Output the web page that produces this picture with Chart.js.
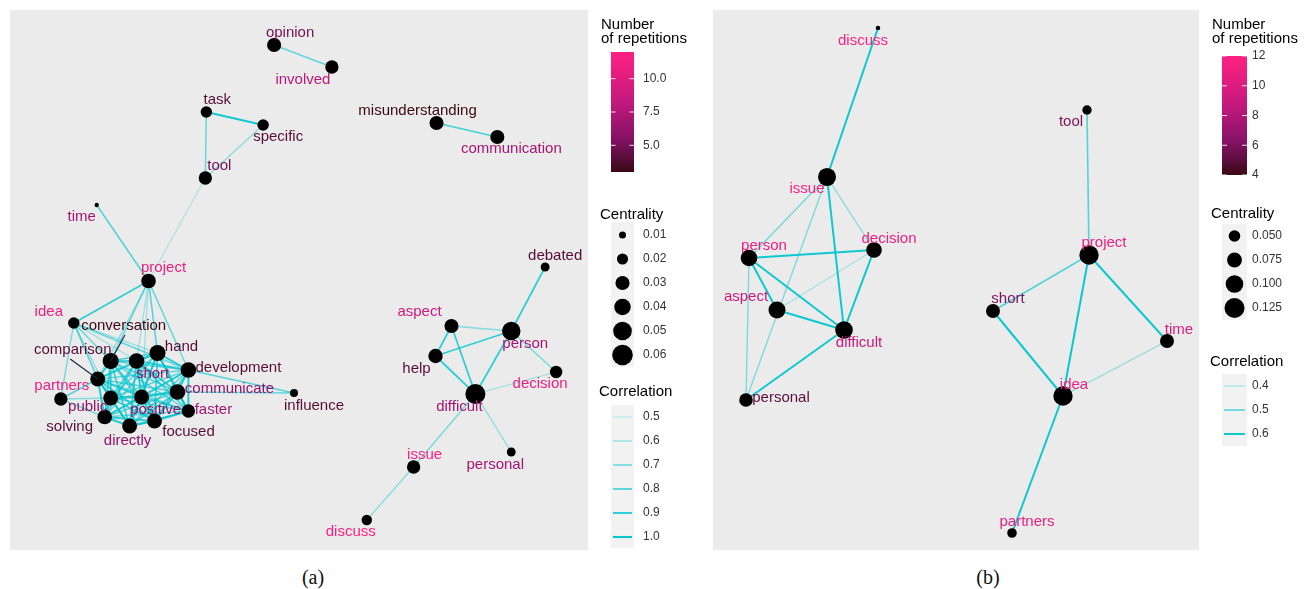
<!DOCTYPE html>
<html>
<head>
<meta charset="utf-8">
<script src="https://cdn.jsdelivr.net/npm/chart.js@4/dist/chart.umd.min.js"></script>
<style>
  html, body { margin: 0; padding: 0; background: #fff; }
  body { width: 1306px; height: 589px; position: relative; overflow: hidden; }
  canvas { position: absolute; top: 0; }
  #netA { left: 0; }
  #netB { left: 700px; }
  .cap { position: absolute; top: 566px; line-height: 22px; font-family: "Liberation Serif", "Times New Roman", serif;
         font-size: 20px; color: #111; transform: translateX(-50%); }
</style>
</head>
<body>
<canvas id="netA" width="700" height="560"></canvas>
<canvas id="netB" width="606" height="560"></canvas>
<div class="cap" style="left:313px">(a)</div>
<div class="cap" style="left:988px">(b)</div>
<script>
// ---------- Network (a) ----------
const wordsA = ["opinion","involved","task","specific","tool","time","project","misunderstanding","communication","debated",
  "idea","conversation","comparison","short","hand","development","partners","public","positive","communicate","faster",
  "solving","directly","focused","influence","aspect","person","help","decision","difficult","personal","issue","discuss"];
const layoutXA = [26.5,32.3,19.7,25.4,19.6,8.7,13.9,42.8,48.9,53.7,6.4,10.1,8.8,12.7,14.8,17.9,5.1,10.1,13.2,16.8,17.9,
  9.5,12.0,14.5,28.5,44.3,50.3,42.7,54.8,46.7,50.3,40.5,35.8];
const layoutYA = [50.5,48.3,43.8,42.5,37.2,34.5,26.9,42.7,41.3,28.3,22.7,18.9,17.1,18.9,19.7,18.0,15.1,15.2,15.3,15.8,13.9,
  13.3,12.4,12.9,15.7,22.4,21.9,19.4,17.8,15.6,9.8,8.3,3.0];
const centralityA = [0.030,0.027,0.021,0.021,0.027,0.006,0.032,0.030,0.030,0.014,0.021,0.038,0.033,0.036,0.038,0.036,0.027,
  0.033,0.033,0.036,0.027,0.032,0.033,0.033,0.012,0.030,0.049,0.031,0.024,0.057,0.014,0.027,0.018];
const repetitionsA = [5,8,4,4,5,7,11,3,7,4,11,3,4,6,4,4,11,6,6,6,7,4,6,4,4,9,7,4,11,7,7,12,12];
const edgesA = [
  ["opinion","involved",0.70],["task","specific",0.95],["task","tool",0.70],["specific","tool",0.60],["tool","project",0.50],
  ["time","project",0.75],["misunderstanding","communication",0.80],
  ["project","idea",0.85],["project","conversation",0.70],["project","comparison",0.60],["project","short",0.55],
  ["project","hand",0.75],["project","development",0.70],["project","positive",0.55],
  ["idea","comparison",0.75],["idea","conversation",0.70],["idea","partners",0.65],["idea","hand",0.60],
  ["idea","development",0.70],["idea","public",0.60],["idea","short",0.55],
  ["partners","comparison",0.75],["partners","public",0.60],["partners","solving",0.65],
  ["development","influence",0.75],["communicate","influence",0.70],
  ["conversation","comparison",0.90],["conversation","short",0.85],["conversation","hand",0.80],["conversation","development",0.75],
  ["conversation","public",0.85],["conversation","positive",0.80],["conversation","communicate",0.75],["conversation","faster",0.70],
  ["conversation","solving",0.80],["conversation","directly",0.80],["conversation","focused",0.75],
  ["comparison","short",0.80],["comparison","hand",0.75],["comparison","development",0.70],["comparison","public",0.90],
  ["comparison","positive",0.85],["comparison","communicate",0.75],["comparison","faster",0.70],["comparison","solving",0.90],
  ["comparison","directly",0.85],["comparison","focused",0.80],
  ["short","hand",0.90],["short","development",0.85],["short","public",0.80],["short","positive",0.90],["short","communicate",0.85],
  ["short","faster",0.80],["short","solving",0.75],["short","directly",0.85],["short","focused",0.85],
  ["hand","development",0.90],["hand","public",0.75],["hand","positive",0.85],["hand","communicate",0.85],["hand","faster",0.80],
  ["hand","solving",0.70],["hand","directly",0.80],["hand","focused",0.80],
  ["development","public",0.70],["development","positive",0.80],["development","communicate",0.90],["development","faster",0.90],
  ["development","solving",0.70],["development","directly",0.75],["development","focused",0.80],
  ["public","positive",0.90],["public","communicate",0.80],["public","faster",0.75],["public","solving",0.95],
  ["public","directly",0.90],["public","focused",0.85],
  ["positive","communicate",0.90],["positive","faster",0.85],["positive","solving",0.85],["positive","directly",0.90],["positive","focused",0.90],
  ["communicate","faster",0.95],["communicate","solving",0.75],["communicate","directly",0.80],["communicate","focused",0.90],
  ["faster","solving",0.70],["faster","directly",0.80],["faster","focused",0.90],
  ["solving","directly",0.90],["solving","focused",0.85],["directly","focused",0.95],
  ["debated","person",0.85],["aspect","person",0.60],["aspect","help",0.85],["aspect","difficult",0.85],["help","person",0.85],
  ["help","difficult",0.85],["person","difficult",0.85],["person","decision",0.65],["decision","difficult",0.55],
  ["difficult","personal",0.60],["difficult","issue",0.65],["issue","discuss",0.60]
];
const repLimitsA = [3, 12];
const repTicksA = [5, 7.5, 10];
const centralityTicksA = [0.01, 0.02, 0.03, 0.04, 0.05, 0.06];
const correlationTicksA = [0.5, 0.6, 0.7, 0.8, 0.9, 1.0];

// ---------- Network (b) ----------
const wordsB = ["discuss","issue","person","decision","aspect","difficult","personal","tool","project","short","time","idea","partners"];
const layoutXB = [16.5,11.4,3.6,16.1,6.4,13.1,3.3,37.4,37.6,28.0,45.4,35.0,29.9];
const layoutYB = [52.2,37.3,29.2,30.0,24.0,22.0,15.0,44.0,29.5,23.9,20.9,15.4,1.7];
const centralityB = [0.018,0.104,0.090,0.081,0.094,0.100,0.064,0.037,0.118,0.067,0.067,0.118,0.038];
const repetitionsB = [12,12,11,11,9,9,5,6,11,6,10,11,11];
const edgesB = [
  ["discuss","issue",0.60],["issue","person",0.45],["issue","personal",0.44],["issue","difficult",0.60],["issue","decision",0.43],
  ["person","decision",0.60],["person","aspect",0.60],["person","difficult",0.60],["person","personal",0.44],
  ["aspect","difficult",0.60],["aspect","decision",0.38],["difficult","decision",0.60],["difficult","personal",0.60],
  ["tool","project",0.50],["project","short",0.50],["project","idea",0.60],["project","time",0.60],
  ["short","idea",0.60],["time","idea",0.42],["idea","partners",0.60]
];
const repLimitsB = [4, 12];
const repTicksB = [4, 6, 8, 10, 12];
const centralityTicksB = [0.050, 0.075, 0.100, 0.125];
const correlationTicksB = [0.4, 0.5, 0.6];

// ---------- label placement (pixel shift of each word from its node) ----------
const labelShiftA = [[16,-12],[-29,13],[11,-12],[15,12],[14,-12],[-15,12],[15,-13],[-19,-12],[14,12],[10,-11],
  [-25,-11],[13,-35],[-25,-29],[16,13],[24,-6],[50,-2],[1,-13],[-23,9],[14,13],[52,-3],[25,-1],
  [-35,10],[-2,15],[34,11],[20,13],[-32,-14],[14,13],[-19,13],[-16,12],[-16,13],[-16,13],[11,-12],[-16,12]];
const leaderWordsA = ["conversation","comparison"];
const labelShiftB = [[-15,13],[-20,12],[15,-12],[15,-11],[-31,-13],[15,13],[35,-2],[-16,12],[15,-12],[15,-12],[12,-11],[11,-11],[15,-11]];

// ---------- shared styling ----------
const FONT = '"Liberation Sans", Arial, Helvetica, sans-serif';
const PANEL_BG = '#ebebeb';
const KEY_BG = '#f2f2f2';
const repStops = [[0,[58,9,18]],[0.12,[90,13,60]],[0.3,[138,18,104]],[0.6,[198,25,124]],[1,[255,33,130]]];

function clamp01(t) { return Math.max(0, Math.min(1, t)); }
function repColor(v, lim) {
  const t = clamp01((v - lim[0]) / (lim[1] - lim[0]));
  for (let i = 1; i < repStops.length; i++) {
    const [t1, c1] = repStops[i], [t0, c0] = repStops[i - 1];
    if (t <= t1) {
      const f = (t - t0) / (t1 - t0);
      const c = c0.map((a, k) => Math.round(a + (c1[k] - a) * f));
      return `rgb(${c[0]},${c[1]},${c[2]})`;
    }
  }
  return 'rgb(255,33,130)';
}
function edgeStyle(c, range) {
  const t = clamp01((c - range[0]) / (range[1] - range[0]));
  return { color: `rgba(0,198,206,${(0.22 + 0.78 * t).toFixed(3)})`, width: 1.0 + 1.1 * t };
}

function makeNetwork(canvasId, p) {
  const idx = {};
  p.words.forEach((w, i) => { idx[w] = i; });
  const pt = (w) => ({ x: p.x[idx[w]], y: p.y[idx[w]] });

  const edgeSets = p.edges.map(([a, b, c]) => {
    const s = edgeStyle(c, p.corrRange);
    return { data: [pt(a), pt(b)], showLine: true, borderColor: s.color, borderWidth: s.width,
             pointRadius: 0, pointHoverRadius: 0, order: 1, clip: false };
  });
  const nodeSet = {
    data: p.words.map((w) => pt(w)),
    pointRadius: (ctx) => p.size(p.centrality[ctx.dataIndex]),
    pointHoverRadius: (ctx) => p.size(p.centrality[ctx.dataIndex]),
    backgroundColor: '#000', borderWidth: 0, order: 0, clip: false
  };
  const nodeIndex = edgeSets.length;

  const panelBackground = {
    id: 'panelBackground',
    beforeDraw(chart) {
      const { ctx, chartArea: a } = chart;
      ctx.save();
      ctx.fillStyle = PANEL_BG;
      ctx.fillRect(a.left, a.top, a.right - a.left, a.bottom - a.top);
      ctx.restore();
    }
  };

  const wordLabels = {
    id: 'wordLabels',
    afterDatasetsDraw(chart) {
      const ctx = chart.ctx;
      const meta = chart.getDatasetMeta(nodeIndex);
      ctx.save();
      ctx.font = '15px ' + FONT;
      ctx.textAlign = 'center';
      ctx.textBaseline = 'middle';
      p.words.forEach((w, i) => {
        const el = meta.data[i];
        const [dx, dy] = p.shift[i];
        const lx = el.x + dx, ly = el.y + dy;
        if (p.leaders.includes(w)) {
          ctx.strokeStyle = '#1c2b3c';
          ctx.lineWidth = 1.2;
          ctx.beginPath();
          ctx.moveTo(el.x, el.y);
          ctx.lineTo(lx + dx * 0.1, ly + 9);
          ctx.stroke();
        }
        ctx.fillStyle = repColor(p.reps[i], p.repLimits);
        ctx.fillText(w, lx, ly);
      });
      ctx.restore();
    }
  };

  const keys = {
    id: 'keys',
    afterDraw(chart) {
      const ctx = chart.ctx, L = p.legend;
      ctx.save();
      // Number of repetitions: colour bar
      ctx.fillStyle = '#000';
      ctx.font = '15px ' + FONT;
      ctx.textAlign = 'left';
      ctx.textBaseline = 'alphabetic';
      ctx.fillText('Number', L.titleX, L.numBase[0]);
      ctx.fillText('of repetitions', L.titleX, L.numBase[1]);
      const [bt, bb] = L.bar;
      const g = ctx.createLinearGradient(0, bb, 0, bt);
      repStops.forEach(([t, c]) => g.addColorStop(t, `rgb(${c[0]},${c[1]},${c[2]})`));
      ctx.fillStyle = g;
      ctx.fillRect(L.keyX, bt, L.keyW, bb - bt);
      const [lo, hi] = p.repLimits;
      ctx.font = '12px ' + FONT;
      ctx.textBaseline = 'middle';
      p.repTicks.forEach((v) => {
        const y = bb - (v - lo) / (hi - lo) * (bb - bt);
        const tl = L.keyW / 5;
        ctx.strokeStyle = 'rgba(255,255,255,0.85)';
        ctx.lineWidth = 1;
        ctx.beginPath();
        ctx.moveTo(L.keyX, y); ctx.lineTo(L.keyX + tl, y);
        ctx.moveTo(L.keyX + L.keyW - tl, y); ctx.lineTo(L.keyX + L.keyW, y);
        ctx.stroke();
        ctx.fillStyle = '#333';
        ctx.fillText(p.repFmt(v), L.labelX, y);
      });

      // Centrality: point sizes
      ctx.fillStyle = '#000';
      ctx.font = '15px ' + FONT;
      ctx.textBaseline = 'alphabetic';
      ctx.fillText('Centrality', L.titleX - 1, L.centTitle);
      ctx.fillStyle = KEY_BG;
      ctx.fillRect(L.keyX, L.centBg[0], L.keyW, L.centBg[1] - L.centBg[0]);
      ctx.font = '12px ' + FONT;
      ctx.textBaseline = 'middle';
      p.centTicks.forEach((v, i) => {
        const y = L.centKeys[0] + i * L.centKeys[1];
        ctx.fillStyle = '#000';
        ctx.beginPath();
        ctx.arc(L.keyX + L.keyW / 2, y, p.size(v), 0, Math.PI * 2);
        ctx.fill();
        ctx.fillStyle = '#333';
        ctx.fillText(p.centFmt(v), L.labelX, y);
      });

      // Correlation: edge strength
      ctx.fillStyle = '#000';
      ctx.font = '15px ' + FONT;
      ctx.textBaseline = 'alphabetic';
      ctx.fillText('Correlation', L.titleX - 2, L.corrTitle);
      ctx.fillStyle = KEY_BG;
      ctx.fillRect(L.keyX, L.corrBg[0], L.keyW, L.corrBg[1] - L.corrBg[0]);
      ctx.font = '12px ' + FONT;
      ctx.textBaseline = 'middle';
      p.corrTicks.forEach((v, i) => {
        const y = L.corrKeys[0] + i * L.corrKeys[1];
        const s = edgeStyle(v, p.corrRange);
        ctx.strokeStyle = s.color;
        ctx.lineWidth = s.width;
        ctx.beginPath();
        ctx.moveTo(L.keyX + 2, y); ctx.lineTo(L.keyX + L.keyW - 2, y);
        ctx.stroke();
        ctx.fillStyle = '#333';
        ctx.fillText(v.toFixed(1), L.labelX, y);
      });
      ctx.restore();
    }
  };

  return new Chart(document.getElementById(canvasId), {
    type: 'scatter',
    data: { datasets: [...edgeSets, nodeSet] },
    options: {
      responsive: false,
      animation: false,
      devicePixelRatio: 1,
      events: [],
      layout: { padding: p.padding },
      scales: {
        x: { type: 'linear', min: 0, max: p.xMax, display: false },
        y: { type: 'linear', min: 0, max: p.yMax, display: false }
      },
      plugins: { legend: { display: false }, tooltip: { enabled: false } }
    },
    plugins: [panelBackground, wordLabels, keys]
  });
}

makeNetwork('netA', {
  words: wordsA, x: layoutXA, y: layoutYA, centrality: centralityA, reps: repetitionsA, edges: edgesA,
  shift: labelShiftA, leaders: leaderWordsA,
  repLimits: repLimitsA, repTicks: repTicksA, repFmt: (v) => v.toFixed(1),
  centTicks: centralityTicksA, centFmt: (v) => v.toFixed(2),
  corrTicks: correlationTicksA, corrRange: [0.45, 1.0],
  size: (c) => Math.sqrt(Math.max(1.5, -6.5 + 1875 * c)),
  xMax: 58, yMax: 54,
  padding: { left: 8, top: 10, right: 112, bottom: 10 },
  legend: { titleX: 601, keyX: 611, keyW: 23, labelX: 643, numBase: [29, 43], bar: [52, 172],
            centTitle: 219, centBg: [222, 367], centKeys: [235, 24],
            corrTitle: 396, corrBg: [405, 548], corrKeys: [417, 24] }
});

makeNetwork('netB', {
  words: wordsB, x: layoutXB, y: layoutYB, centrality: centralityB, reps: repetitionsB, edges: edgesB,
  shift: labelShiftB, leaders: [],
  repLimits: repLimitsB, repTicks: repTicksB, repFmt: (v) => String(v),
  centTicks: centralityTicksB, centFmt: (v) => v.toFixed(3),
  corrTicks: correlationTicksB, corrRange: [0.35, 0.62],
  size: (c) => Math.sqrt(Math.max(1.5, -10.7 + 885 * c)),
  xMax: 48.6, yMax: 54,
  padding: { left: 13, top: 10, right: 107, bottom: 10 },
  legend: { titleX: 512, keyX: 522, keyW: 25, labelX: 552, numBase: [29, 43], bar: [56, 175],
            centTitle: 218, centBg: [224, 320], centKeys: [236, 24],
            corrTitle: 366, corrBg: [374, 446], corrKeys: [386, 24] }
});
</script>
</body>
</html>
